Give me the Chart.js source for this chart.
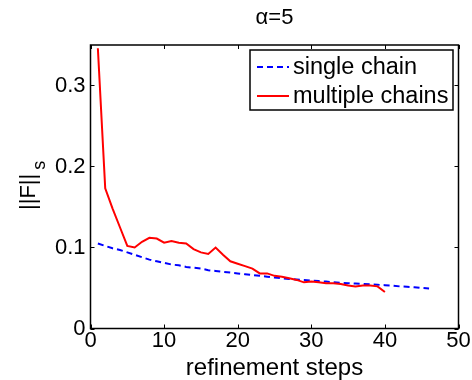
<!DOCTYPE html>
<html>
<head>
<meta charset="utf-8">
<script src="https://cdn.jsdelivr.net/npm/chart.js@4/dist/chart.umd.min.js"></script>
<style>
  html, body { margin: 0; padding: 0; background: #fff; }
  canvas { display: block; }
</style>
</head>
<body>
<canvas id="chart" width="472" height="380"></canvas>
<script>
// refinement steps for each run
const singleSteps = [1, 2, 3, 4, 5, 6, 7, 8, 9, 10, 11, 12, 13, 14, 15, 16, 17, 18, 19, 20, 21, 22, 23,
    24, 25, 26, 27, 28, 29, 30, 31, 32, 33, 34, 35, 36, 37, 38, 39, 40, 41, 42, 43, 44, 45, 46];
const multiSteps = [1, 2, 3, 4, 5, 6, 7, 8, 9, 10, 11, 12, 13, 14, 15, 16, 17, 18, 19, 20,
    21, 22, 23, 24, 25, 26, 27, 28, 29, 30, 31, 32, 33, 34, 35, 36, 37, 38, 39, 40];

// ||F||_s per step
const singleChain = [0.105, 0.102, 0.099, 0.097, 0.094, 0.091, 0.088, 0.085, 0.083, 0.081,
    0.079, 0.078, 0.076, 0.075, 0.074, 0.072, 0.071, 0.070, 0.069, 0.068,
    0.067, 0.066, 0.065, 0.064, 0.063, 0.062, 0.061, 0.0605, 0.060, 0.059,
    0.0585, 0.058, 0.057, 0.0565, 0.056, 0.0555, 0.055, 0.0545, 0.054, 0.0535,
    0.053, 0.052, 0.0515, 0.051, 0.050, 0.0495];
const multipleChains = [0.346, 0.173, 0.148, 0.125, 0.102, 0.100, 0.107, 0.112, 0.111, 0.106,
    0.108, 0.106, 0.105, 0.098, 0.094, 0.092, 0.100, 0.091, 0.083, 0.080,
    0.077, 0.074, 0.068, 0.068, 0.065, 0.064, 0.062, 0.060, 0.057, 0.058,
    0.057, 0.056, 0.056, 0.055, 0.053, 0.052, 0.053, 0.053, 0.052, 0.045];

// axis ticks
const xTicks = [0, 10, 20, 30, 40, 50];
const xTickLabels = ['0', '10', '20', '30', '40', '50'];
const yTicks = [0, 0.1, 0.2, 0.3];
const yTickLabels = ['0', '0.1', '0.2', '0.3'];

const FONT = '"Liberation Sans", Arial, Helvetica, sans-serif';

function toPoints(xs, ys) {
    return xs.map((x, i) => ({ x: x, y: ys[i] }));
}

// matlab-style box, inward ticks, title, y label and legend
const figurePlugin = {
    id: 'figure',
    afterDraw(chart) {
        const ctx = chart.ctx;
        const a = chart.chartArea;
        const xs = chart.scales.x;
        const ys = chart.scales.y;
        ctx.save();

        // box
        ctx.strokeStyle = '#000';
        ctx.lineWidth = 1.5;
        ctx.strokeRect(a.left, a.top, a.right - a.left, a.bottom - a.top);

        // inward ticks on all four sides
        ctx.lineWidth = 1;
        ctx.beginPath();
        xTicks.forEach(v => {
            const px = Math.round(xs.getPixelForValue(v)) + 0.5;
            ctx.moveTo(px, a.bottom); ctx.lineTo(px, a.bottom - 4);
            ctx.moveTo(px, a.top); ctx.lineTo(px, a.top + 4);
        });
        yTicks.forEach(v => {
            const py = Math.round(ys.getPixelForValue(v)) + 0.5;
            ctx.moveTo(a.left, py); ctx.lineTo(a.left + 4, py);
            ctx.moveTo(a.right, py); ctx.lineTo(a.right - 4, py);
        });
        ctx.stroke();

        // title
        ctx.fillStyle = '#000';
        ctx.font = '22px ' + FONT;
        ctx.textAlign = 'center';
        ctx.textBaseline = 'middle';
        ctx.fillText('α=5', (a.left + a.right) / 2, 18);

        // y label ||F||_s
        ctx.save();
        ctx.translate(35, 210);
        ctx.rotate(-Math.PI / 2);
        ctx.textAlign = 'left';
        ctx.textBaseline = 'alphabetic';
        ctx.font = '22px ' + FONT;
        ctx.fillText('||F||', 0, 0);
        const w = ctx.measureText('||F||').width;
        ctx.font = '18px ' + FONT;
        ctx.fillText('s', w + 4, 10);
        ctx.restore();

        // legend
        const lx = 250, ly = 50, lw = 203, lh = 60;
        ctx.fillStyle = '#fff';
        ctx.fillRect(lx, ly, lw, lh);
        ctx.strokeStyle = '#000';
        ctx.lineWidth = 1.5;
        ctx.strokeRect(lx, ly, lw, lh);
        ctx.font = '23.5px ' + FONT;
        ctx.textAlign = 'left';
        ctx.textBaseline = 'middle';
        chart.data.datasets.forEach((ds, i) => {
            const cy = ly + 17 + i * 29;
            ctx.strokeStyle = ds.borderColor;
            ctx.lineWidth = ds.borderWidth;
            ctx.setLineDash(ds.borderDash || []);
            ctx.beginPath();
            ctx.moveTo(lx + 7, cy);
            ctx.lineTo(lx + 39, cy);
            ctx.stroke();
            ctx.setLineDash([]);
            ctx.fillStyle = '#000';
            ctx.fillText(ds.label, lx + 43, cy + 1);
        });

        ctx.restore();
    }
};

new Chart(document.getElementById('chart'), {
    type: 'line',
    data: {
        datasets: [
            {
                label: 'single chain',
                data: toPoints(singleSteps, singleChain),
                borderColor: '#0000ff',
                borderWidth: 2,
                borderDash: [6, 4],
                pointRadius: 0,
                tension: 0,
                order: 1
            },
            {
                label: 'multiple chains',
                data: toPoints(multiSteps, multipleChains),
                borderColor: '#ff0000',
                borderWidth: 2,
                pointRadius: 0,
                tension: 0,
                order: 0
            }
        ]
    },
    options: {
        responsive: false,
        devicePixelRatio: 1,
        animation: false,
        layout: { padding: { top: 45, right: 13.5, left: 0, bottom: 0 } },
        plugins: {
            legend: { display: false },
            title: { display: false },
            tooltip: { enabled: false }
        },
        scales: {
            x: {
                type: 'linear',
                min: 0,
                max: 50,
                grid: { display: false, drawTicks: false },
                border: { display: false },
                afterBuildTicks: s => { s.ticks = xTicks.map(v => ({ value: v })); },
                afterFit: s => { s.height = 51.5; },
                ticks: {
                    padding: 1,
                    color: '#000',
                    font: { family: FONT, size: 22, lineHeight: 1 },
                    maxRotation: 0,
                    autoSkip: false,
                    callback: (v, i) => xTickLabels[i]
                },
                title: {
                    display: true,
                    text: 'refinement steps',
                    color: '#000',
                    padding: 0,
                    font: { family: FONT, size: 24, lineHeight: 1 }
                }
            },
            y: {
                min: 0,
                max: 0.35,
                grid: { display: false, drawTicks: false },
                border: { display: false },
                afterBuildTicks: s => { s.ticks = yTicks.map(v => ({ value: v })); },
                afterFit: s => { s.width = 90.5; },
                ticks: {
                    padding: 5,
                    color: '#000',
                    font: { family: FONT, size: 22, lineHeight: 1 },
                    autoSkip: false,
                    callback: (v, i) => yTickLabels[i]
                }
            }
        }
    },
    plugins: [figurePlugin]
});
</script>
</body>
</html>
